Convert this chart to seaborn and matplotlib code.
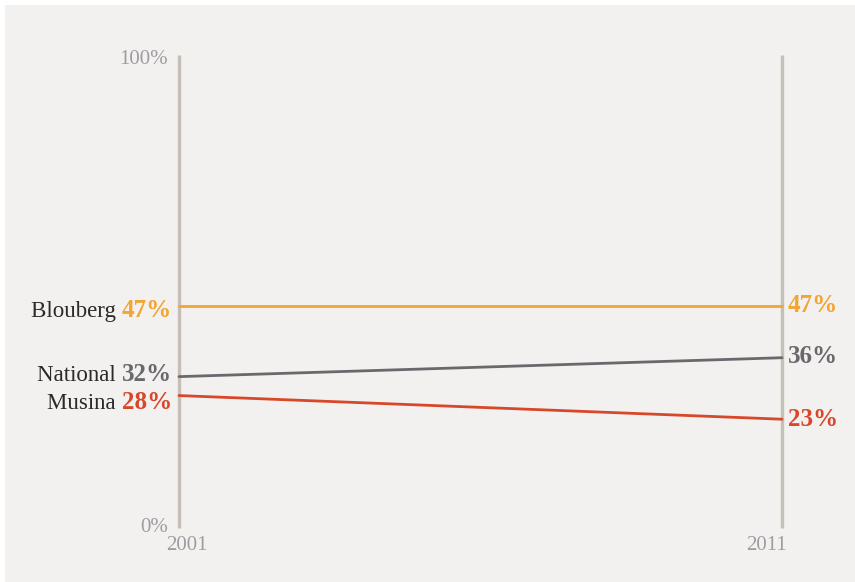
import matplotlib
matplotlib.use("Agg")
import matplotlib.pyplot as plt
import seaborn as sns
import pandas as pd
from matplotlib.patches import Rectangle

years = [2001, 2011]
regions = ["Blouberg", "National", "Musina"]
values_2001 = [47, 32, 28]
values_2011 = [47, 36, 23]
colors = ["#f4a431", "#69686c", "#d7482b"]
y_ticks = [0, 100]
y_tick_labels = ["0%", "100%"]

rows = []
for r, a, b in zip(regions, values_2001, values_2011):
    rows.append({"region": r, "year": years[0], "value": a})
    rows.append({"region": r, "year": years[1], "value": b})
df = pd.DataFrame(rows)

sns.set_theme(style="white")
plt.rcParams["font.family"] = ["Liberation Serif", "DejaVu Serif"]

W, H = 855, 582
fig = plt.figure(figsize=(W / 100, H / 100), dpi=100, facecolor="white")
fig.patches.append(Rectangle((5 / W, 0), 1 - 5 / W, 1 - 5 / H, transform=fig.transFigure,
                             facecolor="#f2f1ef", edgecolor="none", zorder=-10))

left, right, top, bottom = 179, 782, 55, 528
ax = fig.add_axes([left / W, 1 - bottom / H, (right - left) / W, (bottom - top) / H])
ax.set_facecolor("none")
ax.set_xlim(years[0], years[1])
ax.set_ylim(0, 100)

# vertical axes
for yr in years:
    ax.plot([yr, yr], [0, 100], color="#c6bfb8", lw=2.4, clip_on=False, zorder=1,
            solid_capstyle="butt")

sns.lineplot(data=df, x="year", y="value", hue="region", hue_order=regions,
             palette=colors, ax=ax, legend=False, linewidth=2.0, zorder=3)
for l in ax.lines:
    l.set_clip_on(False)

for s in ax.spines.values():
    s.set_visible(False)
ax.set_xticks([])
ax.set_yticks([])
ax.set_xlabel("")
ax.set_ylabel("")

tick_col = "#9d9ca1"
tick_dy = [0, -4]
for t, lab, dy in zip(y_ticks, y_tick_labels, tick_dy):
    ax.annotate(lab, (years[0], t), xytext=(-11, dy), textcoords="offset pixels",
                ha="right", va="center", fontsize=15, color=tick_col)
ax.annotate(str(years[0]), (years[0], 0), xytext=(8, -18), textcoords="offset pixels",
            ha="center", va="center", fontsize=15, color=tick_col)
ax.annotate(str(years[1]), (years[1], 0), xytext=(-15, -18), textcoords="offset pixels",
            ha="center", va="center", fontsize=15, color=tick_col)

# labels
left_off = [-11, -4, -13]
right_off = [-6, -5, -7]
for r, a, b, c, lo, ro in zip(regions, values_2001, values_2011, colors, left_off, right_off):
    t = ax.annotate(f"{a}%", (years[0], a), xytext=(-7, lo), textcoords="offset pixels",
                    ha="right", va="baseline", fontsize=18, fontweight="bold", color=c)
    fig.canvas.draw()
    bb = t.get_window_extent()
    ax.annotate(r + " ", (bb.x0, bb.y0), xycoords="figure pixels",
                ha="right", va="bottom", fontsize=16.5, color="#2a2a2a")
    ax.annotate(f"{b}%", (years[1], b), xytext=(6, ro), textcoords="offset pixels",
                ha="left", va="baseline", fontsize=18, fontweight="bold", color=c)

fig.savefig("out.png", dpi=100, facecolor=fig.get_facecolor())
